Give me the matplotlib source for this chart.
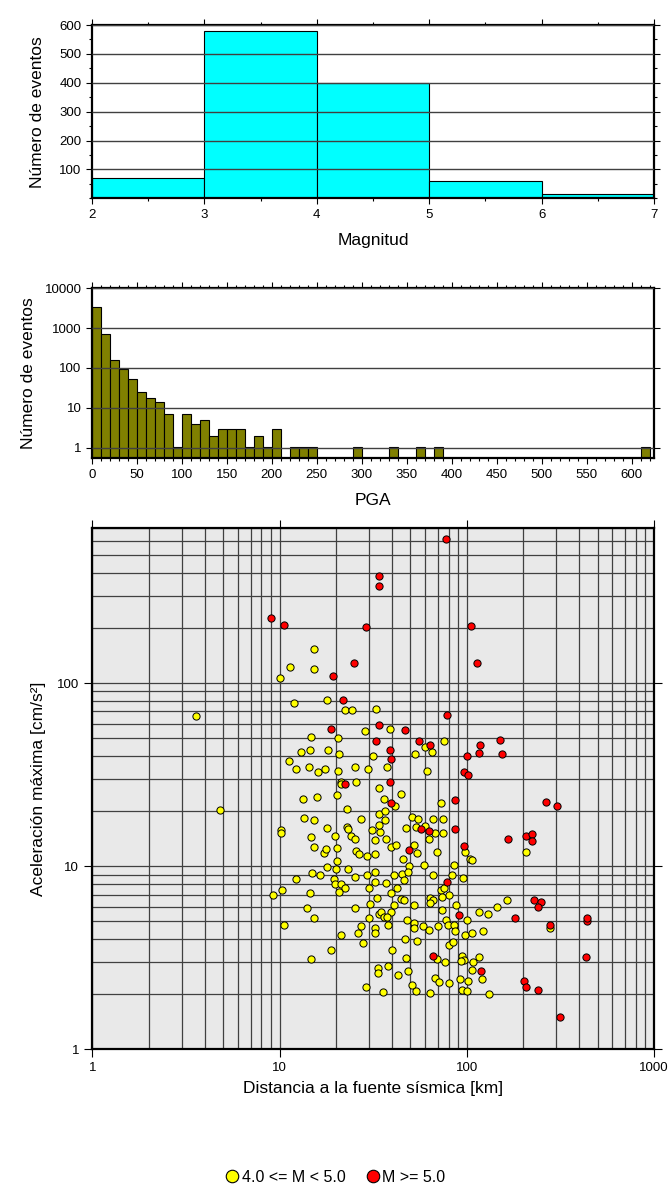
import matplotlib
matplotlib.use('Agg')
import matplotlib.pyplot as plt
import numpy as np
from matplotlib.ticker import FixedLocator, NullFormatter, MultipleLocator, FixedFormatter
from matplotlib.lines import Line2D

plt.rcParams['font.family'] = ['Liberation Sans', 'DejaVu Sans']

# ---------------- data ----------------
mag_edges = [2, 3, 4, 5, 6, 7]
mag_counts = [72, 580, 400, 60, 14]

pga_bin_width = 10
pga_bin_left = [0, 10, 20, 30, 40, 50, 60, 70, 80, 90, 100, 110, 120, 130, 140,
                150, 160, 170, 180, 190, 200, 220, 230, 240, 290, 330, 360, 380, 610]
pga_counts = [3300, 700, 160, 95, 52, 25, 18, 14, 7, 1, 7, 4, 5, 2, 3,
              3, 3, 1, 2, 1, 3, 1, 1, 1, 1, 1, 1, 1, 1]

yellow_dist = [15.3, 11.4, 15.3, 10.1, 12, 18, 22.4, 24.4, 32.6, 3.6, 28.6, 14.8, 20.4, 13, 14.6,
               18.2, 20.8, 31.6, 11.3, 12.3, 14.3, 16.1, 17.5, 20.4, 25.3, 29.6, 21.3, 21.3, 25.6,
               13.4, 15.8, 20.2, 34, 4.8, 22.9, 27.3, 13.5, 15.3, 17.9, 22.8, 23.2, 10.2, 10.2,
               14.7, 19.8, 24.1, 25.2,
               15.3, 17.2, 17.7, 20.2, 25.6, 26.5, 29.2, 20.3, 18, 20, 23.3, 14.9, 16.4, 25.4,
               12.3, 19.5, 19.8, 21.2, 22.5, 20.8, 30, 10.3, 9.2, 14.5, 14.1, 15.3, 25.4, 30.4,
               29.9, 10.5, 27.3, 26.4, 21.2, 27.8, 18.9, 14.7, 29,
               31.3, 32.4, 32.5, 32.5, 32.5, 33.3, 34, 32.5, 32.4, 33.5, 33.5,
               38.8, 60, 65, 75.5, 37.4, 52.8, 61, 44.7, 36.2, 41.5, 34, 36.6, 36.7, 72.7, 51, 55,
               65.9, 74.9, 34.6, 33.8, 47.5, 53.4, 59.9, 67.4, 74.9, 37,
               62.5, 39.5, 41.8, 52.2, 54.3, 69, 97.7, 104, 106, 208, 45.4, 49.3, 59.3, 85.6, 29.4,
               41, 44.9, 48.7, 46.4, 37.2, 42.5, 39.3, 66.2, 83.6, 95, 72.7, 75.6, 80.8, 73.9,
               63.3, 66.2, 63.8, 44.5, 46, 52.4, 34.8, 36, 39.5, 37.4, 37.9, 48.1, 52.2, 52.2,
               58.5, 62.5, 70.5, 77, 79.5, 85.6, 87, 74, 87.6, 100.5, 97.7, 106, 116, 130, 145,
               164, 279, 39.9, 47.3, 69.4, 76.3, 94, 97, 93.4, 108, 116, 107, 121, 38.1, 35.8, 43,
               48.8, 51.1, 53.4, 63.9, 67.4, 71.3, 80.8, 91.6, 101, 94.6, 100, 132, 47, 54.5,
               80.8, 84.9, 122, 41]
yellow_pga = [153, 122, 119, 106, 78, 81, 71, 71, 72, 66.5, 55, 51, 50, 42, 43,
              43, 41, 40, 37.5, 34, 35, 32.6, 34, 33, 35, 34, 29, 28, 29,
              23.4, 23.9, 24.4, 26.6, 20.3, 20.4, 18, 18.3, 17.9, 16.2, 16.3, 16, 15.7, 15.1,
              14.4, 14.7, 14.7, 14.1,
              12.7, 11.8, 12.4, 12.6, 12.1, 11.7, 11.4, 10.7, 9.9, 9.6, 9.7, 9.2, 9.0, 8.7,
              8.5, 8.55, 8.0, 8.0, 7.6, 7.2, 7.6, 7.4, 7.0, 7.1, 5.9, 5.2, 5.9, 6.2,
              5.2, 4.8, 4.7, 4.3, 4.2, 3.8, 3.5, 3.1, 2.2,
              15.8, 13.9, 11.6, 9.3, 8.2, 6.7, 5.5, 4.6, 4.3, 2.77, 2.6,
              56, 45, 42, 48, 35, 41, 33, 24.8, 23.2, 21.2, 19.3, 20.1, 17.8, 22, 18.6, 18.1,
              18.1, 18.1, 15.3, 16.8, 16.2, 16.4, 16.6, 15.1, 15.1, 14.1,
              14, 12.7, 13.1, 13.1, 11.8, 12, 11.9, 11, 10.8, 11.9, 11, 10, 10.1, 10.1, 9.0,
              8.9, 9.1, 9.3, 8.4, 8.1, 7.6, 7.1, 9.0, 8.9, 8.6, 7.4, 7.6, 7.0, 6.8,
              6.7, 6.5, 6.3, 6.6, 6.5, 6.1, 5.6, 5.3, 5.6, 5.3, 4.8, 5.1, 4.9, 4.6,
              4.74, 4.5, 4.7, 5.06, 4.8, 4.77, 4.43, 5.75, 6.15, 5.06, 4.2, 4.34, 5.6, 5.47, 5.97,
              6.5, 4.6, 3.5, 3.15, 3.12, 2.99, 3.24, 3.08, 3.05, 3.0, 3.18, 2.72, 2.42, 2.85, 2.05, 2.55,
              2.69, 2.25, 2.08, 2.03, 2.46, 2.34, 2.3, 2.41, 2.37, 2.11, 2.07, 2.0, 4.0, 3.9,
              3.7, 3.84, 4.43, 6.1]

red_dist = [9.0, 10.5, 29, 34, 34, 25, 19.4, 21.7, 18.8, 34, 32.8, 22.5, 77, 105, 114, 78,
            46.7, 38.8, 55.5, 63.5, 39.3, 117, 116, 150, 154, 100, 97, 101, 38.7, 39.3, 86,
            265, 303, 57, 63, 86, 166, 207, 223, 222, 49, 97, 78, 91, 182, 229, 249, 239,
            279, 438, 440, 434, 65.7, 119, 202, 207, 240, 313]
red_pga = [228, 207, 202, 386, 337, 128, 109, 81, 56, 59, 48, 28, 612, 206, 128, 67,
           55.6, 43, 48, 46, 38.6, 46, 41.5, 49, 41, 40, 32.5, 31.4, 28.8, 22.2, 23,
           22.5, 21.2, 15.9, 15.6, 16, 14, 14.7, 15, 13.7, 12.2, 12.9, 8.2, 5.4, 5.2, 6.5, 6.4, 6.0,
           4.8, 5.0, 5.2, 3.2, 3.25, 2.68, 2.36, 2.2, 2.11, 1.5]

legend_labels = ['4.0 <= M < 5.0', 'M >= 5.0']

# ---------------- figure ----------------
W, H = 670, 1194
fig = plt.figure(figsize=(W / 100, H / 100), dpi=100)

def frac(left, top, right, bottom):
    return [left / W, (H - bottom) / H, (right - left) / W, (bottom - top) / H]

grid_col = '#404040'
frame_lw = 1.6
tick_fs = 9.5
label_fs = 12.5

def style_frame(ax):
    for s in ax.spines.values():
        s.set_linewidth(frame_lw)
        s.set_color('black')

# ---- Histogram of magnitudes ----
ax1 = fig.add_axes(frac(92, 25, 654, 198.3))
widths = np.diff(mag_edges)
ax1.bar(mag_edges[:-1], mag_counts, width=widths, align='edge',
        color='#00ffff', edgecolor='black', linewidth=0.8, zorder=1)
ax1.set_xlim(2, 7)
ax1.set_ylim(0, 600)
ax1.yaxis.set_major_locator(FixedLocator([100, 200, 300, 400, 500, 600]))
ax1.yaxis.set_minor_locator(MultipleLocator(50))
ax1.xaxis.set_major_locator(MultipleLocator(1))
ax1.xaxis.set_minor_locator(MultipleLocator(0.5))
ax1.grid(axis='y', which='major', color=grid_col, linewidth=1.0, zorder=2)
ax1.set_axisbelow(False)
ax1.tick_params(which='both', direction='out', top=True, right=True, labelsize=tick_fs, width=0.8)
ax1.tick_params(which='major', length=4)
ax1.tick_params(which='minor', length=2.5)
ax1.set_xlabel('Magnitud', fontsize=label_fs, labelpad=9)
ax1.set_ylabel('Número de eventos', fontsize=label_fs, labelpad=10)
style_frame(ax1)

# ---- Histogram of PGA ----
ax2 = fig.add_axes(frac(92, 288.3, 654, 458.3))
ax2.bar(pga_bin_left, pga_counts, width=pga_bin_width, align='edge',
        color='#808000', edgecolor='black', linewidth=0.8, zorder=1, bottom=0.01)
ax2.set_yscale('log')
ax2.set_xlim(0, 625)
ax2.set_ylim(0.54, 10000)
ax2.yaxis.set_major_locator(FixedLocator([1, 10, 100, 1000, 10000]))
ax2.yaxis.set_major_formatter(FixedFormatter(['1', '10', '100', '1000', '10000']))
ax2.yaxis.set_minor_locator(FixedLocator([]))
ax2.xaxis.set_major_locator(MultipleLocator(50))
ax2.xaxis.set_minor_locator(MultipleLocator(10))
ax2.grid(axis='y', which='major', color=grid_col, linewidth=1.0, zorder=2)
ax2.set_axisbelow(False)
ax2.tick_params(which='both', direction='out', top=True, right=True, labelsize=tick_fs, width=0.8)
ax2.tick_params(which='major', length=4)
ax2.tick_params(which='minor', length=2.5)
ax2.set_xlabel('PGA', fontsize=label_fs, labelpad=9)
ax2.set_ylabel('Número de eventos', fontsize=label_fs, labelpad=6)
style_frame(ax2)

# ---- Scatter ----
ax3 = fig.add_axes(frac(92.3, 528.3, 654, 1049.3))
ax3.set_facecolor('#e9e9e9')
ax3.set_xscale('log')
ax3.set_yscale('log')
ax3.set_xlim(1, 1000)
ax3.set_ylim(1, 700)
ax3.xaxis.set_major_locator(FixedLocator([1, 10, 100, 1000]))
ax3.xaxis.set_major_formatter(FixedFormatter(['1', '10', '100', '1000']))
ax3.yaxis.set_major_locator(FixedLocator([1, 10, 100]))
ax3.yaxis.set_major_formatter(FixedFormatter(['1', '10', '100']))
xminor = [m * 10 ** d for d in range(0, 3) for m in range(2, 10)]
yminor = [m * 10 ** d for d in range(0, 3) for m in range(2, 10) if m * 10 ** d <= 700]
ax3.xaxis.set_minor_locator(FixedLocator(xminor))
ax3.yaxis.set_minor_locator(FixedLocator(yminor))
ax3.xaxis.set_minor_formatter(NullFormatter())
ax3.yaxis.set_minor_formatter(NullFormatter())
ax3.grid(which='both', color=grid_col, linewidth=0.9, zorder=0)
ax3.set_axisbelow(True)
ax3.tick_params(which='major', direction='out', top=True, right=True, length=6,
                width=0.8, labelsize=tick_fs)
ax3.tick_params(which='minor', length=0)
ax3.scatter(yellow_dist, yellow_pga, s=27, c='#ffff00', edgecolors='black',
            linewidths=0.7, zorder=3)
ax3.scatter(red_dist, red_pga, s=27, c='#ff0000', edgecolors='black',
            linewidths=0.7, zorder=4)
ax3.set_xlabel('Distancia a la fuente sísmica [km]', fontsize=label_fs, labelpad=5)
ax3.set_ylabel('Aceleración máxima [cm/s²]', fontsize=label_fs, labelpad=8)
style_frame(ax3)

# ---- Legend ----
handles = [Line2D([], [], linestyle='none', marker='o', markersize=9,
                  markerfacecolor='#ffff00', markeredgecolor='black', markeredgewidth=0.8),
           Line2D([], [], linestyle='none', marker='o', markersize=9,
                  markerfacecolor='#ff0000', markeredgecolor='black', markeredgewidth=0.8)]
fig.legend(handles, legend_labels, loc='center', bbox_to_anchor=(0.5, (H - 1177) / H),
           ncol=2, frameon=False, fontsize=11.5, handletextpad=0.1,
           columnspacing=1.2, handlelength=1.0)

fig.savefig('out.png', dpi=100)
